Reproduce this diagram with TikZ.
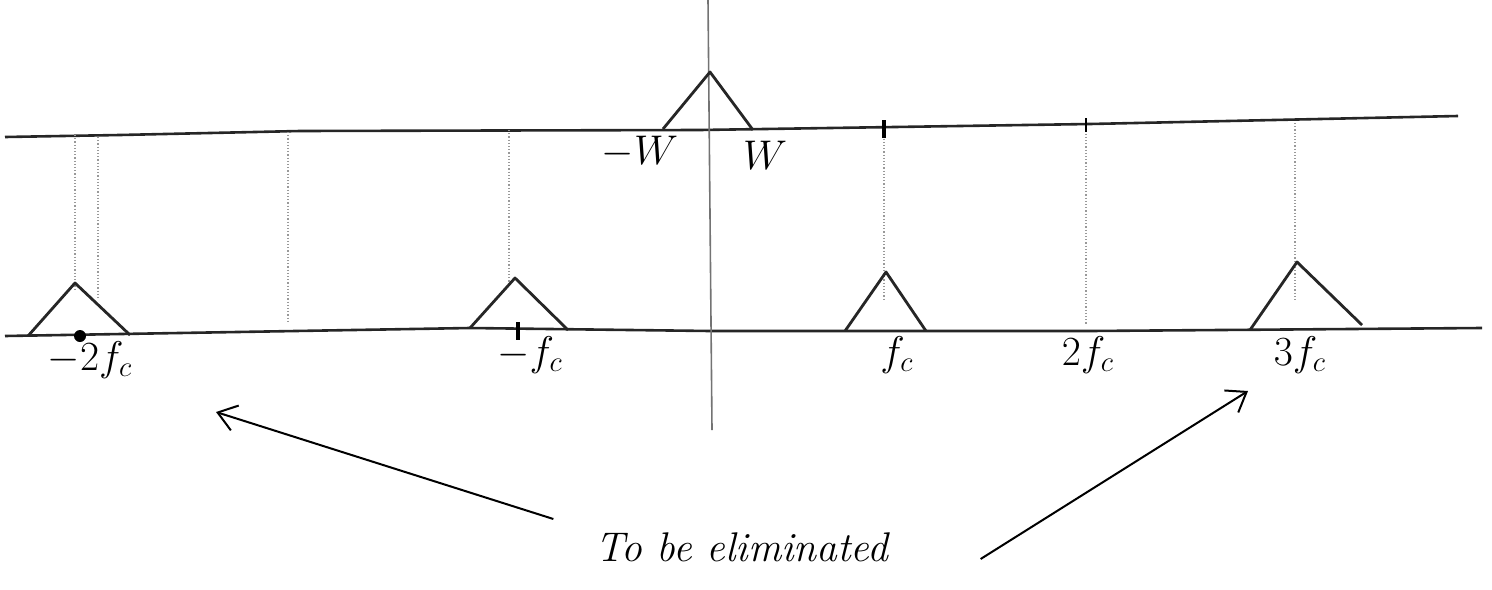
\documentclass[tikz,border=0pt]{standalone}
\usepackage{amsmath,amssymb}
\usepackage{tikz}
\usetikzlibrary{positioning,arrows.meta}

\begin{document}
\begin{tikzpicture}[x=0.5pt,y=-0.5pt,font=\huge,>={Straight Barb[length=9pt,width=13pt]}]
\tikzstyle{ax}=[line width=1.3pt,black!85]
\tikzstyle{guide}=[densely dotted,line width=0.6pt,black!40]
\tikzstyle{lobe}=[line width=1.4pt,black!85,line join=round]
\tikzstyle{lbl}=[inner sep=1pt]
\useasboundingbox (0,0) rectangle (1492,589);
% axes
\coordinate (t0) at (5,137);
\coordinate (t1) at (1458,116);
\coordinate (b0) at (5,336);
\coordinate (b1) at (1482,328);
\coordinate (v0) at (708,0);
\coordinate (v1) at (712,430);
\draw[ax] (t0) -- (120,135) -- (300,131) -- (700,130) -- (1090,124) -- (t1);
\draw[ax] (b0) -- (470,328) -- (710,331) -- (1090,331) -- (b1);
\draw[line width=0.8pt,black!55] (v0) -- (v1);
% guides
\foreach \xa/\ya/\yb in {75/135/290, 98/137/300, 288/132/322, 509/130/285,
  884/129/300, 1086/124/325, 1295/123/300}
  \draw[guide] (\xa,\ya) -- (\xa,\yb);
% baseband lobe
\draw[lobe] (663,129) -- (710,72) -- (753,130);
\node[lbl] (mw) at (640,152) {$-W$};
\node[lbl] (pw) at (765,155) {$W$};
% shifted lobes
\draw[lobe] (28,336) -- (75,283) -- (130,335);
\draw[lobe] (470,328) -- (515,278) -- (568,330);
\draw[lobe] (845,331) -- (886,272) -- (926,331);
\draw[lobe] (1250,330) -- (1297,262) -- (1362,325);
\fill[black] (80,336) circle (6);
\draw[line width=2pt] (518,322) -- (518,340);
\draw[line width=2.2pt] (884,120) -- (884,138);
\draw[line width=1.2pt] (1086,118) -- (1086,132);
% frequency labels
\node[lbl] (f1) at (90,360) {$-2f_c$};
\node[lbl] (f2) at (530,355) {$-f_c$};
\node[lbl] (f3) at (897,355) {$f_c$};
\node[lbl] (f4) at (1088,355) {$2f_c$};
\node[lbl] (f5) at (1300,355) {$3f_c$};
% note
\node[lbl] (elim) at (742,547) {\itshape To be eliminated};
\coordinate (h1) at (216,412);
\coordinate (h2) at (1248,391);
\draw[->,line width=1pt] ([xshift=-20pt,yshift=14pt]elim.west) -- (h1);
\draw[->,line width=1pt] ([xshift=45pt,yshift=-6pt]elim.east) -- (h2);
\end{tikzpicture}
\end{document}
